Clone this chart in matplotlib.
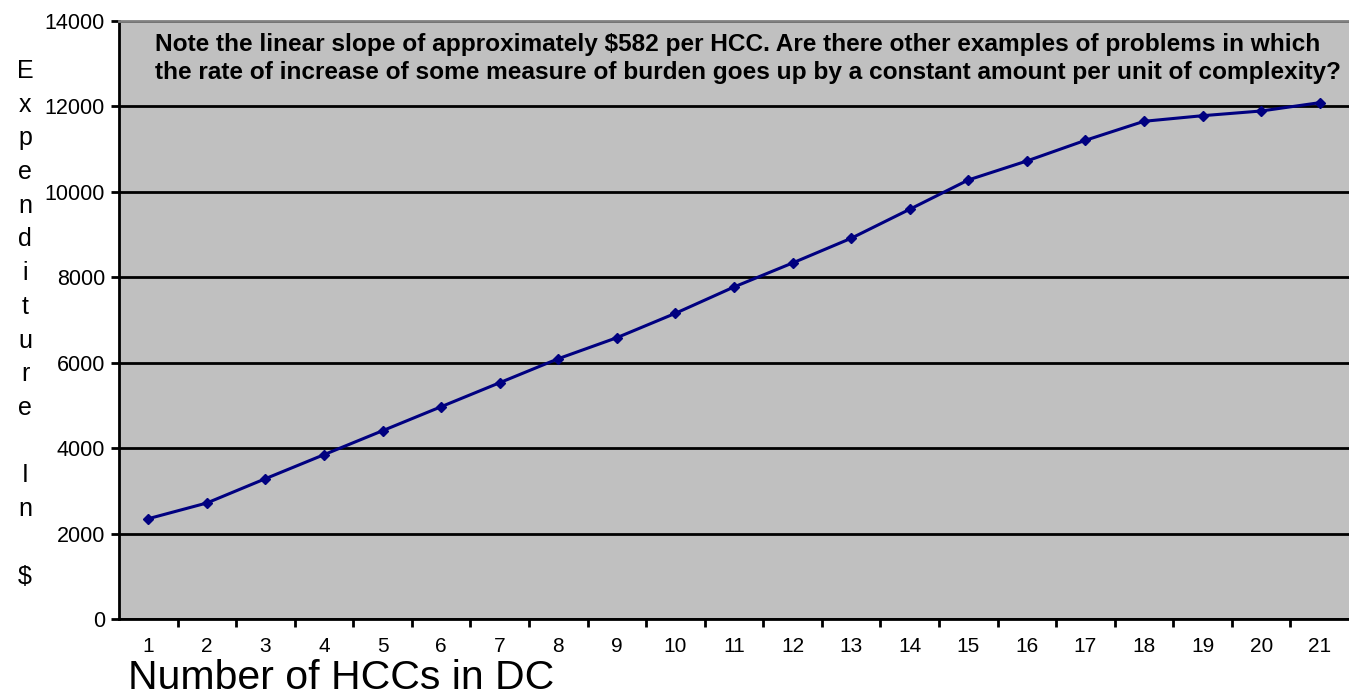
import numpy as np
import matplotlib.pyplot as plt

plt.rcParams['font.family'] = ['Liberation Sans', 'DejaVu Sans']

# number of HCCs and mean expenditure
hccs = list(range(1, 22))
expenditure = [2348, 2716, 3285, 3847, 4408, 4970, 5532, 6094, 6586, 7157,
               7773, 8335, 8913, 9592, 10278, 10723, 11207, 11652, 11783,
               11893, 12088]
yticks = [0, 2000, 4000, 6000, 8000, 10000, 12000, 14000]
ylabel_chars = list("Expenditure") + [" ", "I", "n", " ", "$"]
note = ("Note the linear slope of approximately $582 per HCC. Are there other examples of problems in which\n"
        "the rate of increase of some measure of burden goes up by a constant amount per unit of complexity?")

fig = plt.figure(figsize=(13.49, 6.95), dpi=100)
W, H = 1349, 695
ax = fig.add_axes([119 / W, 76 / H, 1230 / W, 598 / H])
ax.set_facecolor('#c0c0c0')

ax.plot(hccs, expenditure, color='#000080', lw=2.2, marker='D', ms=5,
        zorder=3)

ax.set_xlim(0.5, 21.5)
ax.set_ylim(0, 14000)
ax.set_yticks(yticks)
ax.set_yticklabels([str(v) for v in yticks])
ax.yaxis.grid(True, color='black', lw=2)
ax.set_axisbelow(True)

ax.set_xticks(hccs)
ax.set_xticklabels([str(h) for h in hccs])
ax.set_xticks(np.arange(1.5, 21, 1), minor=True)
ax.tick_params(axis='x', which='major', length=0, labelsize=15, pad=13)
ax.tick_params(axis='x', which='minor', length=6, width=2, direction='out')
ax.tick_params(axis='y', length=6, width=2, direction='out', labelsize=15.5, pad=4)

for s in ['left', 'bottom']:
    ax.spines[s].set_linewidth(2)
    ax.spines[s].set_color('black')
ax.spines['right'].set_visible(False)
ax.spines['top'].set_color('#808080')
ax.spines['top'].set_linewidth(2)

# vertical stacked y label
for i, ch in enumerate(ylabel_chars):
    fig.text(25 / W, 1 - (71 + i * 33.7) / H, ch, fontsize=18,
             ha='center', va='center')

fig.text(128 / W, 1 - 689 / H, "Number of HCCs in DC", fontsize=29.5,
         ha='left', va='baseline')

fig.text(155 / W, 1 - 33 / H, note, fontsize=17.6, fontweight='bold',
         ha='left', va='top', linespacing=1.3)

fig.savefig('out.png', dpi=100)
